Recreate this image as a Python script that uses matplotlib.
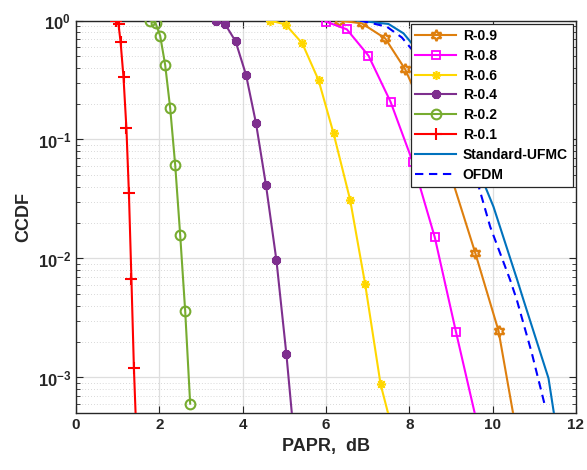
import matplotlib
matplotlib.use('Agg')
import matplotlib.pyplot as plt
from matplotlib.ticker import FixedLocator, NullFormatter, FixedFormatter

plt.rcParams['font.family'] = ['Liberation Sans', 'DejaVu Sans']
plt.rcParams['font.weight'] = 'bold'
plt.rcParams['mathtext.fontset'] = 'custom'
plt.rcParams['mathtext.rm'] = 'Liberation Sans:bold'
plt.rcParams['mathtext.bf'] = 'Liberation Sans:bold'
plt.rcParams['mathtext.it'] = 'Liberation Sans:bold'

# ---- data ----
r01_x = [0.95, 1.02, 1.07, 1.14, 1.21, 1.27, 1.33, 1.39, 1.43]
r01_y = [1.0, 0.93, 0.66, 0.333, 0.124, 0.0353, 0.00673, 0.00119, 5e-4]

r02_x = [1.78, 1.91, 2.02, 2.14, 2.26, 2.38, 2.50, 2.62, 2.74]
r02_y = [1.0, 0.947, 0.745, 0.423, 0.184, 0.0614, 0.0158, 0.00364, 0.000603]

r04_x = [3.35, 3.58, 3.83, 4.08, 4.32, 4.56, 4.81, 5.05, 5.18]
r04_y = [1.0, 0.93, 0.668, 0.35, 0.137, 0.0412, 0.00966, 0.00156, 5e-4]

r06_x = [4.66, 5.03, 5.43, 5.82, 6.18, 6.58, 6.94, 7.31, 7.49]
r06_y = [1.0, 0.925, 0.643, 0.316, 0.113, 0.031, 0.00607, 0.000877, 5e-4]

r08_x = [5.99, 6.50, 7.02, 7.55, 8.08, 8.61, 9.12, 9.57]
r08_y = [0.98, 0.843, 0.506, 0.207, 0.065, 0.0151, 0.00241, 5e-4]

r09_x = [6.32, 6.86, 7.42, 7.90, 8.46, 9.03, 9.58, 10.14, 10.49]
r09_y = [1.0, 0.946, 0.708, 0.389, 0.14, 0.0457, 0.0112, 0.00247, 5e-4]

ufmc_x = [6.74, 7.50, 7.86, 8.2, 8.6, 9.0, 9.4, 9.74, 10.02, 10.59, 10.74, 11.34, 11.47]
ufmc_y = [1.0, 0.935, 0.78, 0.56, 0.34, 0.186, 0.093, 0.0472, 0.0272, 0.00659, 0.00448, 0.000985, 5e-4]

ofdm_x = [6.82, 7.46, 7.82, 8.2, 8.6, 9.0, 9.3, 9.62, 9.94, 10.42, 10.58, 10.94, 11.26]
ofdm_y = [1.0, 0.887, 0.72, 0.5, 0.3, 0.16, 0.09, 0.0457, 0.0185, 0.00659, 0.00448, 0.0016, 0.000569]

x_ticks = [0, 2, 4, 6, 8, 10, 12]
y_ticks = [1e-3, 1e-2, 1e-1, 1e0]
y_tick_labels = [r'$10^{-3}$', r'$10^{-2}$', r'$10^{-1}$', r'$10^{0}$']

fig = plt.figure(figsize=(5.87, 4.70), dpi=100)
ax = fig.add_axes([76/587, 1-413.3/470, 500/587, (413.3-20.5)/470])

lw = 1.5
ax.plot(r09_x, r09_y, color='#DE7F0E', lw=lw, marker=(6, 1, 0), ms=8, mfc='none', mew=1.6,
        markevery=slice(0, len(r09_x)-1), label='R-0.9', zorder=3)
ax.plot(r08_x, r08_y, color='#FF00FF', lw=lw, marker='s', ms=6, mfc='none', mew=1.3,
        markevery=slice(0, len(r08_x)-1), label='R-0.8', zorder=3)
ax.plot(r06_x, r06_y, color='#FFD700', lw=lw, marker=(8, 2, 0), ms=6.5, mew=1.2,
        markevery=slice(0, len(r06_x)-1), label='R-0.6', zorder=3)
ax.plot(r04_x, r04_y, color='#7E2F8E', lw=lw, marker=(8, 2, 0), ms=6.5, mew=2.2,
        markevery=slice(0, len(r04_x)-1), label='R-0.4', zorder=3)
ax.plot(r02_x, r02_y, color='#77AC30', lw=lw, marker='o', ms=7, mfc='none', mew=1.5,
        label='R-0.2', zorder=3)
ax.plot(r01_x, r01_y, color='#FF0000', lw=lw, marker='+', ms=8, mew=1.5,
        markevery=slice(0, len(r01_x)-1), label='R-0.1', zorder=3)
ax.plot(ufmc_x, ufmc_y, color='#0072BD', lw=lw, label='Standard-UFMC', zorder=3)
ax.plot(ofdm_x, ofdm_y, color='#0000FF', lw=lw, ls=(0, (4, 2.7)), label='OFDM', zorder=3)

ax.set_yscale('log')
ax.set_xlim(0, 12)
ax.set_ylim(5e-4, 1)
ax.xaxis.set_major_locator(FixedLocator(x_ticks))
ax.yaxis.set_major_locator(FixedLocator(y_ticks))
ax.yaxis.set_major_formatter(FixedFormatter(y_tick_labels))
minors = [m * 10.0**e for e in (-4, -3, -2, -1) for m in range(2, 10)]
minors = [v for v in minors if 5e-4 <= v < 1]
ax.yaxis.set_minor_locator(FixedLocator(minors))
ax.yaxis.set_minor_formatter(NullFormatter())

ax.grid(True, which='major', color='#dedede', lw=0.9, ls='-')
ax.grid(True, which='minor', axis='y', color='#cccccc', lw=0.6, ls=(0, (1, 2.5)))
ax.set_axisbelow(True)

for s in ax.spines.values():
    s.set_color('#262626')
    s.set_linewidth(1.0)
ax.tick_params(which='both', direction='in', top=True, right=True, colors='#262626',
               labelcolor='#262626')
ax.tick_params(axis='x', labelsize=11)
ax.tick_params(axis='y', labelsize=12)
ax.tick_params(which='major', length=5, width=0.8)
ax.tick_params(which='minor', length=3, width=0.6)
for lab in ax.get_xticklabels():
    lab.set_fontweight('bold')

ax.set_xlabel('PAPR,  dB', fontsize=13, fontweight='bold', color='#262626', labelpad=4)
ax.set_ylabel('CCDF', fontsize=13, fontweight='bold', color='#262626', labelpad=4)

leg = ax.legend(loc='upper right', fontsize=10, frameon=True, fancybox=False,
                edgecolor='#262626', framealpha=1, handlelength=2.9, labelspacing=0.42,
                borderaxespad=0.25, borderpad=0.35, handletextpad=0.5, numpoints=1)
leg.get_frame().set_linewidth(0.9)
for t in leg.get_texts():
    t.set_fontweight('bold')

fig.savefig('out.png', dpi=100)
